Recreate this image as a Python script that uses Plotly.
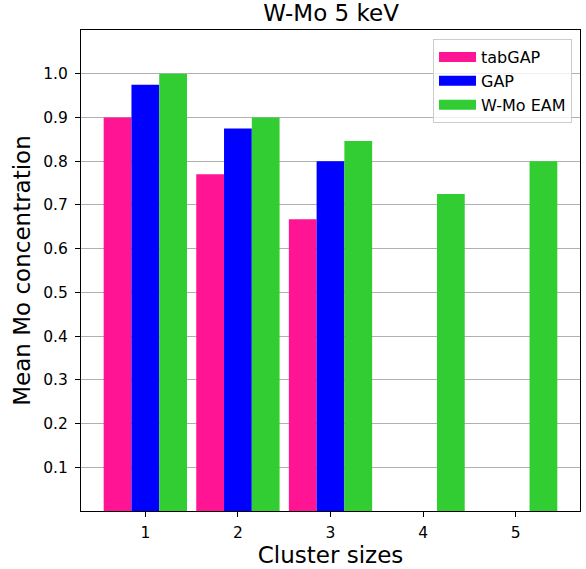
import plotly.graph_objects as go

cluster_sizes = [1, 2, 3, 4, 5]
tabgap = [0.9, 0.77, 0.667, 0, 0]
gap = [0.975, 0.875, 0.8, 0, 0]
wmo_eam = [1.0, 0.9, 0.846, 0.725, 0.8]
y_ticks = [0.1, 0.2, 0.3, 0.4, 0.5, 0.6, 0.7, 0.8, 0.9, 1.0]

series = [
    ('tabGAP', tabgap, '#FF1493'),
    ('GAP', gap, '#0000FF'),
    ('W-Mo EAM', wmo_eam, '#32CD32'),
]

font = 'DejaVu Sans, sans-serif'

fig = go.Figure()
for name, values, color in series:
    fig.add_trace(go.Bar(x=cluster_sizes, y=values, name=name, showlegend=False,
                         marker=dict(color=color, line=dict(width=0))))
# wide legend patches like matplotlib's
for name, values, color in series:
    fig.add_trace(go.Scatter(x=[None], y=[None], mode='lines', name=name,
                             line=dict(color=color, width=12)))

fig.update_xaxes(
    range=[0.305, 5.695], automargin=False,
    tickvals=cluster_sizes,
    ticks='outside', ticklen=5, tickcolor='black', ticklabelstandoff=2,
    showline=True, linecolor='black', linewidth=1, mirror=True,
    showgrid=False, zeroline=False,
    tickfont=dict(size=15.5, color='black'),
    title=dict(text='Cluster sizes', font=dict(size=23, color='black'), standoff=4),
)
fig.update_yaxes(
    range=[0, 1.1], automargin=False,
    tickvals=y_ticks, tickformat='.1f',
    ticks='outside', ticklen=5, tickcolor='black', ticklabelstandoff=4,
    showline=True, linecolor='black', linewidth=1, mirror=True,
    showgrid=True, gridcolor='#b0b0b0', gridwidth=1, zeroline=False,
    tickfont=dict(size=15.5, color='black'),
    title=dict(text='Mean Mo concentration', font=dict(size=23, color='black'), standoff=6),
)

fig.update_layout(
    width=586, height=569,
    margin=dict(l=81, r=6, t=30, b=58),
    barmode='group', bargap=0.1, bargroupgap=0,
    plot_bgcolor='white', paper_bgcolor='white',
    font=dict(family=font, color='black'),
    title=dict(text='W-Mo 5 keV', x=0.565, xanchor='center', y=0.978, yanchor='middle',
               font=dict(size=23, color='black')),
    legend=dict(
        x=0.984, xanchor='right', y=0.981, yanchor='top',
        bgcolor='rgba(255,255,255,0.8)', bordercolor='#cccccc', borderwidth=1,
        font=dict(size=16, color='black'), itemwidth=37,
    ),
)

# drop the page's default body margin so the figure sits at the window corner
fig.write_html("out.html", config={'displayModeBar': False},
               post_script="document.body.style.margin='0';")
